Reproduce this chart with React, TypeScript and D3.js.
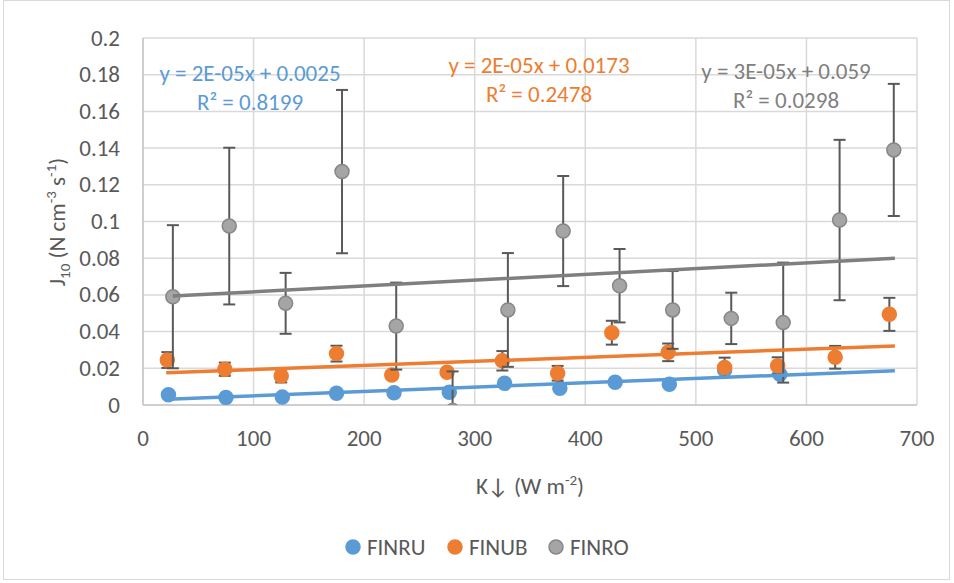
import React, { useEffect, useRef } from "react";
import * as d3 from "d3";

// axis ticks
const xTicks = [0, 100, 200, 300, 400, 500, 600, 700];
const yTicks = [0, 0.02, 0.04, 0.06, 0.08, 0.1, 0.12, 0.14, 0.16, 0.18, 0.2];
const yTickLabels = ["0", "0.02", "0.04", "0.06", "0.08", "0.1", "0.12", "0.14", "0.16", "0.18", "0.2"];

// FINRU
const ruX = [23, 75, 126, 175, 227, 277, 327, 377, 427, 476, 526, 576];
const ruY = [0.0056, 0.0041, 0.0043, 0.0064, 0.0067, 0.0069, 0.0118, 0.0091, 0.0124, 0.0113, 0.019, 0.0167];
const ruTrend = [[23, 0.0032], [680, 0.0187]];

// FINUB
const ubX = [22, 74, 125, 175, 225, 275, 325, 375, 424, 475, 526, 574, 626, 675];
const ubY = [0.0245, 0.0195, 0.0158, 0.028, 0.0163, 0.0178, 0.0241, 0.0173, 0.0394, 0.0287, 0.0205, 0.0214, 0.026, 0.0494];
const ubErr = [0.0043, 0.0036, 0.0035, 0.0043, 0.002, 0.002, 0.0053, 0.004, 0.0065, 0.0048, 0.0053, 0.0046, 0.0062, 0.009];
const ubTrend = [[21, 0.0176], [680, 0.0322]];

// FINRO
const roX = [27, 78, 129, 180, 229, 280, 330, 380, 431, 479, 532, 579, 630, 679];
const roY = [0.059, 0.0975, 0.0554, 0.1272, 0.043, -0.003, 0.0518, 0.0948, 0.065, 0.0518, 0.0472, 0.0449, 0.1008, 0.139];
const roErr = [0.039, 0.0427, 0.0166, 0.0445, 0.0237, 0.0213, 0.031, 0.03, 0.02, 0.0212, 0.014, 0.0327, 0.0437, 0.036];
const roTrend = [[27, 0.0594], [680, 0.08]];

const equations = [
  { lines: ["y = 2E-05x + 0.0025", "R² = 0.8199"], color: "#5B9BD5", cx: 250, y0: 81 },
  { lines: ["y = 2E-05x + 0.0173", "R² = 0.2478"], color: "#ED7D31", cx: 539, y0: 73 },
  { lines: ["y = 3E-05x + 0.059", "R² = 0.0298"], color: "#7F7F7F", cx: 786, y0: 79 },
];

const FONT = "Carlito, Calibri, Lato, sans-serif";

const App = () => {
  const svgRef = useRef<SVGSVGElement>(null);

  useEffect(() => {
    const svg = d3.select(svgRef.current);
    svg.selectAll("*").remove();

    const x = d3.scaleLinear().domain([0, 700]).range([143, 917]);
    const y = d3.scaleLinear().domain([0, 0.2]).range([405, 38]);

    svg
      .append("rect")
      .attr("x", 3.5)
      .attr("y", 0.5)
      .attr("width", 946)
      .attr("height", 579)
      .attr("fill", "#fff")
      .attr("stroke", "#d9d9d9");

    svg
      .append("defs")
      .append("clipPath")
      .attr("id", "plot-clip")
      .append("rect")
      .attr("x", 143)
      .attr("y", 38)
      .attr("width", 774)
      .attr("height", 367);

    // grid
    const grid = svg.append("g").attr("stroke", "#d9d9d9").attr("stroke-width", 1.5);
    yTicks.slice(1).forEach((t) => {
      grid.append("line").attr("x1", 143).attr("x2", 917).attr("y1", y(t)).attr("y2", y(t));
    });
    xTicks.slice(1).forEach((t) => {
      grid.append("line").attr("x1", x(t)).attr("x2", x(t)).attr("y1", 38).attr("y2", 405);
    });
    const axes = svg.append("g").attr("stroke", "#bfbfbf").attr("stroke-width", 1.5);
    axes.append("line").attr("x1", 143).attr("x2", 143).attr("y1", 38).attr("y2", 405);
    axes.append("line").attr("x1", 143).attr("x2", 917).attr("y1", 405).attr("y2", 405);

    // tick labels
    const labels = svg.append("g").attr("font-family", FONT).attr("font-size", 23).attr("fill", "#595959");
    yTicks.forEach((t, i) => {
      labels.append("text").attr("x", 120).attr("y", y(t) + 7.5).attr("text-anchor", "end").text(yTickLabels[i]);
    });
    xTicks.forEach((t) => {
      labels.append("text").attr("x", x(t)).attr("y", 446).attr("text-anchor", "middle").text(t);
    });

    // axis titles
    const yTitle = labels
      .append("text")
      .attr("transform", "translate(65,222) rotate(-90)")
      .attr("text-anchor", "middle");
    yTitle.append("tspan").text("J");
    yTitle.append("tspan").attr("font-size", 15).attr("dy", 5).text("10");
    yTitle.append("tspan").attr("dy", -5).text(" (N cm");
    yTitle.append("tspan").attr("font-size", 15).attr("dy", -9).text("-3");
    yTitle.append("tspan").attr("dy", 9).text(" s");
    yTitle.append("tspan").attr("font-size", 15).attr("dy", -9).text("-1");
    yTitle.append("tspan").attr("dy", 9).text(")");

    const xTitle = labels.append("text").attr("x", 530).attr("y", 494).attr("text-anchor", "middle");
    xTitle.append("tspan").text("K↓ (W m");
    xTitle.append("tspan").attr("font-size", 15).attr("dy", -9).text("-2");
    xTitle.append("tspan").attr("dy", 9).text(")");

    const plot = svg.append("g").attr("clip-path", "url(#plot-clip)");

    const drawErrors = (xs: number[], ys: number[], errs: number[]) => {
      const g = plot.append("g").attr("stroke", "#595959").attr("stroke-width", 2);
      xs.forEach((xv, i) => {
        const lo = y(ys[i] - errs[i]);
        const hi = y(ys[i] + errs[i]);
        g.append("line").attr("x1", x(xv)).attr("x2", x(xv)).attr("y1", lo).attr("y2", hi);
        g.append("line").attr("x1", x(xv) - 6).attr("x2", x(xv) + 6).attr("y1", lo).attr("y2", lo);
        g.append("line").attr("x1", x(xv) - 6).attr("x2", x(xv) + 6).attr("y1", hi).attr("y2", hi);
      });
    };

    const drawMarkers = (xs: number[], ys: number[], fill: string, stroke: string) => {
      plot
        .append("g")
        .selectAll("circle")
        .data(xs.map((xv, i) => [xv, ys[i]]))
        .enter()
        .append("circle")
        .attr("cx", (d) => x(d[0]))
        .attr("cy", (d) => y(d[1]))
        .attr("r", 7)
        .attr("fill", fill)
        .attr("stroke", stroke)
        .attr("stroke-width", 1.5);
    };

    drawMarkers(ruX, ruY, "#5B9BD5", "#5B9BD5");
    drawErrors(ubX, ubY, ubErr);
    drawMarkers(ubX, ubY, "#ED7D31", "#ED7D31");
    drawErrors(roX, roY, roErr);
    drawMarkers(roX, roY, "#A5A5A5", "#878787");

    const line = d3
      .line<number[]>()
      .x((d) => x(d[0]))
      .y((d) => y(d[1]));
    [
      [ruTrend, "#5B9BD5"],
      [ubTrend, "#ED7D31"],
      [roTrend, "#7F7F7F"],
    ].forEach(([pts, color]) => {
      plot
        .append("path")
        .attr("d", line(pts as number[][]))
        .attr("fill", "none")
        .attr("stroke", color as string)
        .attr("stroke-width", 3.5);
    });

    // trendline labels
    equations.forEach((eq) => {
      eq.lines.forEach((t, i) => {
        svg
          .append("text")
          .attr("x", eq.cx)
          .attr("y", eq.y0 + i * 29)
          .attr("text-anchor", "middle")
          .attr("font-family", FONT)
          .attr("font-size", 23)
          .attr("fill", eq.color)
          .text(t);
      });
    });

    // legend
    const legend = [
      ["FINRU", "#5B9BD5", "#5B9BD5", 353],
      ["FINUB", "#ED7D31", "#ED7D31", 455],
      ["FINRO", "#A5A5A5", "#878787", 556],
    ];
    legend.forEach(([name, fill, stroke, cx]) => {
      svg
        .append("circle")
        .attr("cx", cx as number)
        .attr("cy", 547)
        .attr("r", 7)
        .attr("fill", fill as string)
        .attr("stroke", stroke as string)
        .attr("stroke-width", 1.5);
      svg
        .append("text")
        .attr("x", (cx as number) + 14)
        .attr("y", 555)
        .attr("font-family", FONT)
        .attr("font-size", 23)
        .attr("fill", "#595959")
        .text(name as string);
    });
  }, []);

  return (
    <svg
      ref={svgRef}
      width={954}
      height={583}
      style={{ position: "absolute", left: 0, top: 0 }}
    ></svg>
  );
};

export default App;
